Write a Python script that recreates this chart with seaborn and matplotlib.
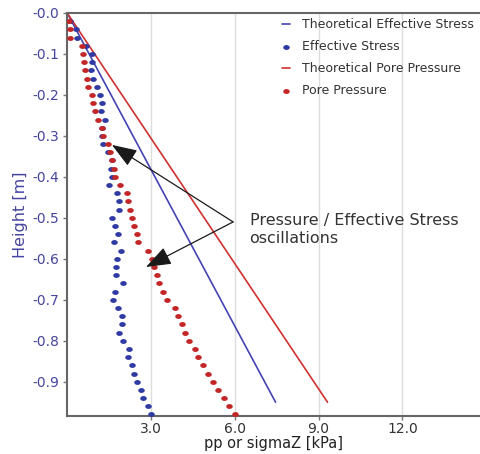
import numpy as np
import pandas as pd
import matplotlib
matplotlib.use("Agg")
import matplotlib.pyplot as plt
from matplotlib.path import Path
import seaborn as sns

# Measurement heights (m), one sample every 2 cm
height = [-0.02 * k for k in range(1, 50)]

# Measured effective stress (kPa)
effective_stress = [
    0.10, 0.32, 0.36, 0.66, 0.88, 0.88, 0.84, 0.93, 1.08, 1.17,
    1.24, 1.22, 1.35, 1.24, 1.24, 1.29, 1.45, 1.59, 1.56, 1.59,
    1.51, 1.77, 1.87, 1.87, 1.59, 1.71, 1.83, 1.68, 1.93, 1.79,
    1.75, 1.75, 1.99, 1.71, 1.63, 1.83, 1.95, 1.95, 1.87, 2.01,
    2.21, 2.19, 2.33, 2.39, 2.49, 2.64, 2.72, 2.88, 2.99,
]

# Measured pore pressure (kPa)
pore_pressure = [
    0.05, 0.10, 0.10, 0.52, 0.55, 0.60, 0.64, 0.70, 0.76, 0.88,
    0.93, 1.00, 1.11, 1.25, 1.29, 1.47, 1.53, 1.62, 1.68, 1.71,
    1.89, 2.13, 2.19, 2.25, 2.31, 2.39, 2.49, 2.55, 2.90, 3.03,
    3.11, 3.20, 3.30, 3.42, 3.56, 3.86, 3.98, 4.10, 4.22, 4.37,
    4.58, 4.69, 4.87, 5.05, 5.21, 5.41, 5.61, 5.80, 6.01,
]

# Theoretical profiles (linear from the surface)
theory_height = [0.0, -0.95]
theory_effective = [0.0, 7.46]
theory_pore = [0.0, 9.32]

xtick_values = [3.0, 6.0, 9.0, 12.0]
ytick_values = [0.0, -0.1, -0.2, -0.3, -0.4, -0.5, -0.6, -0.7, -0.8, -0.9]
ytick_labels = ["-0.0", "-0.1", "-0.2", "-0.3", "-0.4",
                "-0.5", "-0.6", "-0.7", "-0.8", "-0.9"]

BLUE_LINE = "#4343b4"
BLUE_DOT = "#2f3aa3"
RED_LINE = "#cf3030"
RED_DOT = "#c32626"
LABEL_BLUE = "#45459e"

sns.set_style("white")
plt.rcParams["font.family"] = ["DejaVu Sans"]

fig = plt.figure(figsize=(4.8, 4.54), dpi=100)
ax = fig.add_axes([67.2 / 480, 38 / 454, 1 - 67.2 / 480, 403 / 454])

# slightly flattened dot marker
t = np.linspace(0, 2 * np.pi, 40)
dot = Path(np.column_stack([np.cos(t), 0.75 * np.sin(t)]), closed=True)

meas = pd.DataFrame({"height": height, "eff": effective_stress, "pp": pore_pressure})
theo = pd.DataFrame({"height": theory_height, "eff": theory_effective, "pp": theory_pore})

sns.lineplot(data=theo, x="eff", y="height", color=BLUE_LINE, lw=1.2,
             sort=False, ax=ax, label="Theoretical Effective Stress")
sns.scatterplot(data=meas, x="eff", y="height", color=BLUE_DOT, marker=dot,
                s=22, linewidth=0, ax=ax, label="Effective Stress", zorder=3)
sns.lineplot(data=theo, x="pp", y="height", color=RED_LINE, lw=1.2,
             sort=False, ax=ax, label="Theoretical Pore Pressure")
sns.scatterplot(data=meas, x="pp", y="height", color=RED_DOT, marker=dot,
                s=22, linewidth=0, ax=ax, label="Pore Pressure", zorder=3)

ax.set_xlim(0, 14.78)
ax.set_ylim(-0.9837, 0.0)
ax.set_xticks(xtick_values)
ax.set_xticklabels([f"{v:.1f}" for v in xtick_values], fontsize=10, color="#333333")
ax.set_yticks(ytick_values)
ax.set_yticklabels(ytick_labels, fontsize=10, color=LABEL_BLUE)
ax.tick_params(axis="both", length=3, width=1, color="#777777")
ax.tick_params(axis="y", left=True, pad=3)
ax.tick_params(axis="x", bottom=True, pad=1.5)

ax.xaxis.grid(True, color="#dddddd", lw=1)
ax.yaxis.grid(False)
ax.set_axisbelow(True)

for side in ["left", "bottom", "top"]:
    ax.spines[side].set_color("#666666")
    ax.spines[side].set_linewidth(1.5)
ax.spines["right"].set_visible(False)

ax.set_xlabel("pp or sigmaZ [kPa]", fontsize=10.5, color="#222222", labelpad=0)
ax.set_ylabel("Height [m]", fontsize=11.5, color=LABEL_BLUE, labelpad=3)

handles, labels = ax.get_legend_handles_labels()
leg = ax.legend(handles, labels, loc="upper left",
                bbox_to_anchor=(282 / 480, 1 - 18 / 454),
                bbox_transform=fig.transFigure, frameon=False,
                fontsize=9, handlelength=0.6, handletextpad=1.0,
                labelspacing=0.72, borderpad=0, borderaxespad=0,
                markerscale=1.0)
for txt in leg.get_texts():
    txt.set_color("#333333")

# annotation for the oscillating measurements
origin = (5.94, -0.51)
arrow = dict(arrowstyle="-|>,head_length=0.6,head_width=0.22",
             mutation_scale=26, color="#1a1a1a", lw=0.9,
             shrinkA=0, shrinkB=0)
ax.annotate("", xy=(1.60, -0.322), xytext=origin, arrowprops=arrow)
ax.annotate("", xy=(2.82, -0.62), xytext=origin, arrowprops=arrow)
ax.text(6.53, -0.528, "Pressure / Effective Stress\noscillations",
        fontsize=11.5, color="#333333", va="center", ha="left")

fig.savefig("out.png", dpi=100)
